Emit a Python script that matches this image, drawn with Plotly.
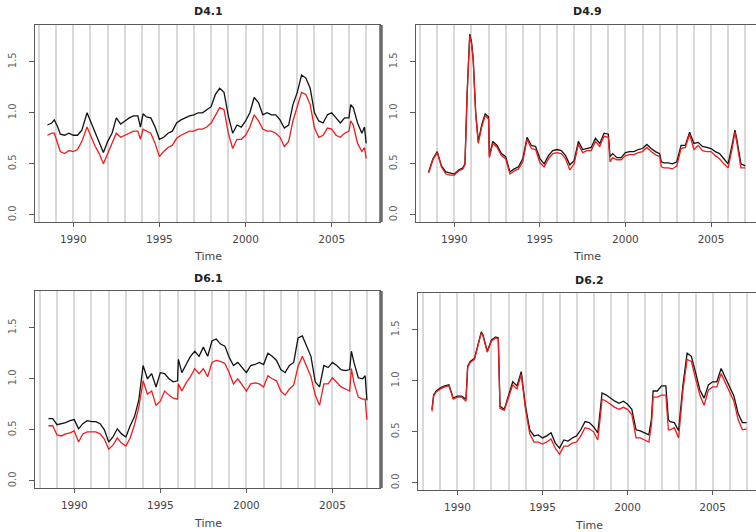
import plotly.graph_objects as go

# ---------------- data ----------------
t41 = [1988.5, 1988.75, 1988.9, 1989.1, 1989.25, 1989.5, 1989.75,
       1990.0, 1990.25, 1990.5, 1990.8,
       1991.0, 1991.25, 1991.5, 1991.75,
       1992.0, 1992.25, 1992.5, 1992.75,
       1993.0, 1993.25, 1993.5, 1993.75, 1993.9,
       1994.05, 1994.25, 1994.5, 1994.75,
       1995.0, 1995.25, 1995.5, 1995.75,
       1996.0, 1996.25, 1996.5, 1996.75,
       1997.0, 1997.25, 1997.5, 1997.75,
       1998.0, 1998.25, 1998.5, 1998.75,
       1999.0, 1999.25, 1999.5, 1999.75,
       2000.0, 2000.25, 2000.5, 2000.75,
       2001.0, 2001.25, 2001.5, 2001.75,
       2002.0, 2002.25, 2002.5, 2002.75,
       2003.0, 2003.25, 2003.5, 2003.75,
       2004.0, 2004.25, 2004.5, 2004.75,
       2005.0, 2005.25, 2005.5, 2005.75,
       2006.0, 2006.1, 2006.25, 2006.5, 2006.75, 2006.9,
       2007.0]
black41 = [0.88, 0.90, 0.93, 0.86, 0.79, 0.78, 0.80,
           0.78, 0.78, 0.83, 1.00,
           0.92, 0.82, 0.72, 0.61,
           0.72, 0.80, 0.95, 0.89,
           0.92, 0.95, 0.97, 0.97, 0.86,
           0.99, 0.96, 0.95, 0.86,
           0.74, 0.76, 0.80, 0.82,
           0.90, 0.93, 0.95, 0.97,
           0.98, 1.00, 1.00, 1.03,
           1.06, 1.18, 1.24, 1.20,
           0.97, 0.80, 0.88, 0.86,
           0.92, 1.00, 1.15, 1.10,
           0.98, 1.00, 0.98, 0.98,
           0.93, 0.85, 0.88, 1.08,
           1.20, 1.37, 1.34, 1.24,
           1.00, 0.92, 0.90, 0.98,
           1.00, 0.95, 0.90, 0.95,
           0.95, 1.08, 1.05, 0.90, 0.80, 0.86,
           0.70]
red41 = [0.78, 0.80, 0.80, 0.70, 0.62, 0.60, 0.63,
         0.62, 0.64, 0.72, 0.86,
         0.78, 0.68, 0.60, 0.50,
         0.60, 0.70, 0.80, 0.76,
         0.78, 0.80, 0.82, 0.82, 0.74,
         0.84, 0.82, 0.80, 0.70,
         0.57, 0.62, 0.66, 0.68,
         0.75, 0.78, 0.80, 0.82,
         0.82, 0.84, 0.84, 0.86,
         0.90, 0.98, 1.05, 1.03,
         0.80, 0.65, 0.74, 0.74,
         0.78, 0.86, 0.98, 0.92,
         0.84, 0.82, 0.82, 0.80,
         0.76, 0.67, 0.72, 0.92,
         1.05, 1.20, 1.18, 1.08,
         0.85, 0.76, 0.78, 0.85,
         0.84, 0.78, 0.76, 0.80,
         0.82, 0.92, 0.88, 0.70, 0.62, 0.66,
         0.55]

t49 = [1988.5, 1988.75, 1989.0, 1989.25, 1989.5, 1989.75,
       1990.0, 1990.25, 1990.5, 1990.62, 1990.75, 1990.9,
       1991.0, 1991.1, 1991.25, 1991.4, 1991.6, 1991.8,
       1992.0, 1992.05, 1992.25, 1992.5, 1992.75,
       1993.0, 1993.25, 1993.5, 1993.75,
       1994.0, 1994.25, 1994.5, 1994.75,
       1995.0, 1995.25, 1995.5, 1995.75,
       1996.0, 1996.25, 1996.5, 1996.75,
       1997.0, 1997.25, 1997.5, 1997.75,
       1998.0, 1998.25, 1998.5, 1998.75,
       1999.0, 1999.1, 1999.25, 1999.5, 1999.75,
       2000.0, 2000.25, 2000.5, 2000.75,
       2001.0, 2001.25, 2001.5, 2001.75,
       2002.0, 2002.1, 2002.25, 2002.5, 2002.75,
       2003.0, 2003.25, 2003.5, 2003.75,
       2004.0, 2004.25, 2004.5, 2004.75,
       2005.0, 2005.25, 2005.5, 2005.75,
       2006.0, 2006.25, 2006.4, 2006.5, 2006.75,
       2007.0]
black49 = [0.42, 0.55, 0.62, 0.48, 0.42, 0.41,
           0.40, 0.44, 0.46, 0.50, 1.20, 1.77,
           1.70, 1.54, 1.00, 0.72, 0.88, 0.99,
           0.96, 0.58, 0.72, 0.68, 0.60,
           0.57, 0.42, 0.45, 0.47,
           0.55, 0.76, 0.68, 0.67,
           0.55, 0.50, 0.58, 0.63,
           0.64, 0.63, 0.58, 0.49,
           0.53, 0.72, 0.64, 0.65,
           0.66, 0.75, 0.70, 0.80,
           0.79, 0.57, 0.60, 0.56, 0.56,
           0.61, 0.62, 0.62, 0.64,
           0.65, 0.69, 0.65, 0.62,
           0.60, 0.52, 0.51, 0.51, 0.50,
           0.52, 0.68, 0.68, 0.81,
           0.70, 0.71, 0.67, 0.66,
           0.65, 0.62, 0.60, 0.55,
           0.50, 0.70, 0.83, 0.75, 0.50,
           0.48]
red49 = [0.41, 0.54, 0.61, 0.47, 0.40, 0.39,
         0.39, 0.43, 0.45, 0.49, 1.18, 1.75,
         1.68, 1.52, 0.98, 0.70, 0.86, 0.97,
         0.94, 0.56, 0.70, 0.66, 0.58,
         0.55, 0.40, 0.43, 0.45,
         0.52, 0.74, 0.65, 0.64,
         0.51, 0.47, 0.55, 0.60,
         0.61, 0.60, 0.55, 0.44,
         0.50, 0.69, 0.61, 0.63,
         0.63, 0.72, 0.67, 0.77,
         0.76, 0.52, 0.56, 0.54, 0.54,
         0.58, 0.59, 0.59, 0.61,
         0.62, 0.66, 0.62, 0.59,
         0.57, 0.47, 0.46, 0.46, 0.45,
         0.48, 0.65, 0.66, 0.79,
         0.64, 0.68, 0.63, 0.62,
         0.62, 0.58, 0.55, 0.50,
         0.46, 0.66, 0.81, 0.72, 0.46,
         0.46]

t61 = [1988.5, 1988.75, 1989.0, 1989.25, 1989.5, 1989.75,
       1990.0, 1990.25, 1990.5, 1990.75,
       1991.0, 1991.25, 1991.5, 1991.75,
       1992.0, 1992.25, 1992.5, 1992.75,
       1993.0, 1993.25, 1993.5, 1993.75,
       1994.0, 1994.25, 1994.5, 1994.75,
       1995.0, 1995.25, 1995.5, 1995.75,
       1996.0, 1996.05, 1996.25, 1996.5, 1996.75,
       1997.0, 1997.25, 1997.5, 1997.75,
       1998.0, 1998.25, 1998.5, 1998.75,
       1999.0, 1999.25, 1999.5, 1999.75,
       2000.0, 2000.25, 2000.5, 2000.75,
       2001.0, 2001.25, 2001.5, 2001.75,
       2002.0, 2002.25, 2002.5, 2002.75,
       2003.0, 2003.25, 2003.5, 2003.75,
       2004.0, 2004.25, 2004.5, 2004.75,
       2005.0, 2005.25, 2005.5, 2005.75,
       2006.0, 2006.1, 2006.25, 2006.5, 2006.75, 2006.9,
       2007.0]
black61 = [0.61, 0.61, 0.55, 0.56, 0.57, 0.59,
           0.60, 0.51, 0.56, 0.59,
           0.58, 0.58, 0.56, 0.50,
           0.38, 0.43, 0.51, 0.46,
           0.43, 0.54, 0.63, 0.79,
           1.13, 1.00, 1.05, 0.92,
           1.06, 1.05, 1.00, 0.97,
           0.98, 1.19, 1.06, 1.14, 1.22,
           1.27, 1.22, 1.31, 1.22,
           1.37, 1.39, 1.34, 1.32,
           1.21, 1.13, 1.16, 1.11,
           1.06, 1.13, 1.14, 1.16,
           1.14, 1.25, 1.22, 1.18,
           1.09, 1.06, 1.13, 1.16,
           1.40, 1.42, 1.31, 1.22,
           0.97, 0.92, 1.13, 1.11,
           1.16, 1.13, 1.09, 1.08,
           1.09, 1.27, 1.16, 1.01, 1.00, 1.03,
           0.79]
red61 = [0.54, 0.54, 0.45, 0.44, 0.46, 0.47,
         0.49, 0.38, 0.46, 0.48,
         0.48, 0.48, 0.46, 0.41,
         0.31, 0.35, 0.42, 0.37,
         0.34, 0.42, 0.55, 0.72,
         0.98, 0.85, 0.88, 0.74,
         0.78, 0.88, 0.84, 0.81,
         0.80, 0.95, 0.88, 0.96, 1.02,
         1.10, 1.05, 1.10, 1.02,
         1.16, 1.18, 1.17, 1.15,
         1.06, 0.95, 1.00, 0.94,
         0.88, 0.95, 0.96, 0.95,
         0.92, 1.03, 1.00, 0.98,
         0.88, 0.84, 0.90, 0.94,
         1.12, 1.22, 1.12, 1.02,
         0.84, 0.74, 0.95, 0.95,
         1.01, 0.96, 0.92, 0.90,
         0.88, 1.10, 0.96, 0.82, 0.80, 0.80,
         0.60]

t62 = [1988.5, 1988.6, 1988.75, 1989.0, 1989.25, 1989.5, 1989.75,
       1990.0, 1990.25, 1990.5, 1990.6, 1990.75,
       1991.0, 1991.25, 1991.4, 1991.5, 1991.75,
       1992.0, 1992.25, 1992.4, 1992.5, 1992.75,
       1993.0, 1993.25, 1993.5, 1993.75,
       1994.0, 1994.25, 1994.5, 1994.75,
       1995.0, 1995.25, 1995.5, 1995.75,
       1996.0, 1996.25, 1996.5, 1996.75,
       1997.0, 1997.25, 1997.5, 1997.75,
       1998.0, 1998.25, 1998.4, 1998.5, 1998.75,
       1999.0, 1999.25, 1999.5, 1999.75,
       2000.0, 2000.25, 2000.5, 2000.75,
       2001.0, 2001.25, 2001.4, 2001.5, 2001.75,
       2002.0, 2002.25, 2002.4, 2002.5, 2002.75,
       2003.0, 2003.25, 2003.5, 2003.75,
       2004.0, 2004.25, 2004.5, 2004.75,
       2005.0, 2005.25, 2005.5, 2005.75,
       2006.0, 2006.25, 2006.5, 2006.75,
       2007.0]
black62 = [0.72, 0.86, 0.90, 0.93, 0.95, 0.96, 0.83,
           0.85, 0.85, 0.82, 1.14, 1.19,
           1.22, 1.40, 1.48, 1.45, 1.29,
           1.40, 1.43, 1.42, 0.75, 0.72,
           0.86, 0.99, 0.95, 1.09,
           0.75, 0.52, 0.46, 0.47,
           0.44, 0.46, 0.49, 0.39,
           0.34, 0.42, 0.41, 0.44,
           0.46, 0.52, 0.60, 0.59,
           0.55, 0.49, 0.72, 0.88, 0.86,
           0.83, 0.80, 0.78, 0.80,
           0.77, 0.72, 0.52, 0.51,
           0.49, 0.47, 0.62, 0.90, 0.90,
           0.95, 0.95, 0.62, 0.60, 0.59,
           0.51, 0.95, 1.27, 1.24,
           1.08, 0.91, 0.83, 0.96,
           0.99, 0.99, 1.12, 1.03,
           0.95, 0.85, 0.68, 0.59,
           0.59]
red62 = [0.70, 0.85, 0.89, 0.92, 0.94, 0.95, 0.82,
         0.84, 0.84, 0.80, 1.13, 1.18,
         1.21, 1.39, 1.47, 1.44, 1.28,
         1.39, 1.42, 1.41, 0.73, 0.71,
         0.84, 0.96, 0.92, 1.06,
         0.72, 0.48, 0.40, 0.40,
         0.38, 0.40, 0.43, 0.34,
         0.28, 0.36, 0.36, 0.39,
         0.40, 0.46, 0.54, 0.53,
         0.50, 0.42, 0.65, 0.82, 0.80,
         0.77, 0.74, 0.72, 0.74,
         0.72, 0.67, 0.44, 0.44,
         0.42, 0.40, 0.56, 0.84, 0.84,
         0.86, 0.86, 0.52, 0.52, 0.54,
         0.44, 0.90, 1.21, 1.19,
         1.02, 0.86, 0.76, 0.91,
         0.94, 0.94, 1.07, 0.98,
         0.89, 0.80, 0.62, 0.52,
         0.53]

titles = ["D4.1", "D4.9", "D6.1", "D6.2"]
y_ticks = [0.0, 0.5, 1.0, 1.5]
y_tick_labels = ["0.0", "0.5", "1.0", "1.5"]
x_ticks = [1990, 1995, 2000, 2005]
x_tick_labels = ["1990", "1995", "2000", "2005"]

# ---------------- layout geometry (pixels) ----------------
W, H = 756, 532
# (left, right, top, bottom, xrange)
boxes = [
    (35, 381, 25, 222, [1987.78, 2007.86]),
    (416, 756, 25, 222, [1987.76, 2007.63]),
    (35, 381, 291, 488, [1987.72, 2007.82]),
    (418, 756, 293, 490, [1987.68, 2007.55]),
]
series = [(t41, black41, red41), (t49, black49, red49),
          (t61, black61, red61), (t62, black62, red62)]

FONT = "DejaVu Sans, Liberation Sans, Arial, sans-serif"
GRID = "#d9d9d9"
AX = "#5a5a5a"

fig = go.Figure()
layout = dict(
    width=W, height=H, margin=dict(l=0, r=0, t=0, b=0),
    paper_bgcolor="white", plot_bgcolor="white", showlegend=False,
    font=dict(family=FONT, size=10, color="#444"),
)
annotations = []
shapes = []

for i, ((x0, x1, y0, y1, xr), (t, kb, kr)) in enumerate(zip(boxes, series)):
    n = "" if i == 0 else str(i + 1)
    xa, ya = "x" + n, "y" + n
    fig.add_trace(go.Scatter(x=t, y=kb, mode="lines", xaxis=xa, yaxis=ya,
                             line=dict(color="#111111", width=1.3)))
    fig.add_trace(go.Scatter(x=t, y=kr, mode="lines", xaxis=xa, yaxis=ya,
                             line=dict(color="#ee1c1c", width=1.3)))
    right_panel = i in (1, 3)
    layout["xaxis" + n] = dict(
        domain=[x0 / W, x1 / W], anchor=ya, range=xr,
        tickvals=x_ticks, ticktext=x_tick_labels,
        ticks="outside", ticklen=4, tickcolor=AX, tickwidth=1,
        showline=True, linecolor=AX, linewidth=1, mirror=True,
        showgrid=True, gridcolor=GRID, gridwidth=2, zeroline=False,
        minor=dict(dtick=1, tick0=1989, showgrid=True, gridcolor=GRID,
                   gridwidth=2, ticks=""),
        tickfont=dict(size=10.5, color="#444"), ticklabelstandoff=3,
        fixedrange=True,
    )
    layout["yaxis" + n] = dict(
        domain=[1 - y1 / H, 1 - y0 / H], anchor=xa, range=[-0.07, 1.86],
        tickvals=y_ticks, ticktext=y_tick_labels, tickangle=-90,
        ticks="outside", ticklen=5, tickcolor=AX, tickwidth=1,
        showline=True, linecolor=AX, linewidth=1, mirror=False,
        showgrid=False, zeroline=False,
        tickfont=dict(size=10, color="#666"), ticklabelstandoff=9,
        fixedrange=True,
    )
    if not right_panel:
        shapes.append(dict(type="line", xref=xa + " domain", yref=ya + " domain",
                           x0=1, x1=1, y0=0, y1=1,
                           line=dict(color="#6a6a6a", width=3.5)))
    cx = ((x0 + (x1 if not right_panel else x0 + 342)) / 2) / W
    annotations.append(dict(text="<b>" + titles[i] + "</b>", x=cx, y=1 - (y0 - 13) / H,
                            xref="paper", yref="paper", showarrow=False,
                            xanchor="center", yanchor="middle",
                            font=dict(size=11, color="#222", family=FONT)))
    annotations.append(dict(text="Time", x=cx, y=1 - (y1 + 35) / H,
                            xref="paper", yref="paper", showarrow=False,
                            xanchor="center", yanchor="middle",
                            font=dict(size=11, color="#444", family=FONT)))

layout["annotations"] = annotations
layout["shapes"] = shapes
fig.update_layout(**layout)
fig.write_html("out.html")
